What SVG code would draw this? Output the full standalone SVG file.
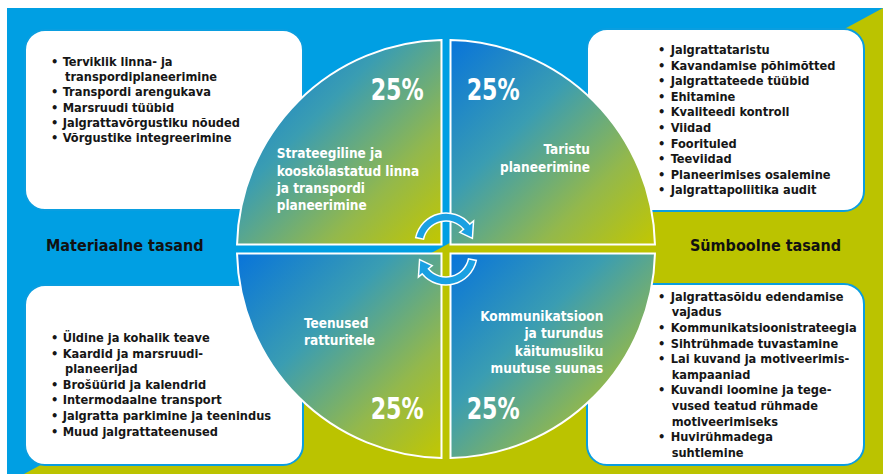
<svg xmlns="http://www.w3.org/2000/svg" width="883" height="474" viewBox="0 0 883 474">
<defs>
<linearGradient id="qg" x1="0" y1="0" x2="1" y2="1">
<stop offset="0" stop-color="#0874DA"/>
<stop offset="0.38" stop-color="#3A9DB2"/>
<stop offset="0.72" stop-color="#93B84C"/>
<stop offset="1" stop-color="#C2C700"/>
</linearGradient>
<style>
.box{fill:#fff;stroke:#0A9EE0;stroke-width:2}
.item{font-family:"DejaVu Sans Condensed","DejaVu Sans",sans-serif;font-weight:bold;font-size:12.7px;fill:#161616}
.qt{font-family:"DejaVu Sans Condensed","DejaVu Sans",sans-serif;font-weight:bold;font-size:13.5px;fill:#fff}
.pct{font-family:"DejaVu Sans Condensed","DejaVu Sans",sans-serif;font-weight:bold;font-size:30px;fill:#fff}
.lbl{font-family:"DejaVu Sans Condensed","DejaVu Sans",sans-serif;font-weight:bold;font-size:16px;fill:#111}
.quad{fill:url(#qg);stroke:#fff;stroke-width:2}
.arrow{fill:#1AA0E2;stroke:#fff;stroke-width:1.5;stroke-linejoin:miter}
</style>
</defs>
<rect x="0" y="0" width="883" height="474" fill="#fff"/>
<rect x="7" y="8" width="876" height="466" fill="#009FE3"/>
<polygon points="883,8 883,474 24,474" fill="#BBC300"/>

<g id="box-tl">
<rect class="box" x="25" y="30" width="278" height="180" rx="20"/>
<g class="item">
<text x="51" y="65.5">•</text><text x="62.7" y="65.5">Terviklik linna- ja</text>
<text x="65" y="81">transpordiplaneerimine</text>
<text x="51" y="96.3">•</text><text x="62.7" y="96.3">Transpordi arengukava</text>
<text x="51" y="111.7">•</text><text x="62.7" y="111.7">Marsruudi tüübid</text>
<text x="51" y="127">•</text><text x="62.7" y="127">Jalgrattavõrgustiku nõuded</text>
<text x="51" y="142.4">•</text><text x="62.7" y="142.4">Võrgustike integreerimine</text>
</g>
</g>

<g id="box-tr">
<rect class="box" x="587" y="29" width="277" height="182" rx="20"/>
<g class="item">
<text x="658" y="54">•</text><text x="670.7" y="54">Jalgrattataristu</text>
<text x="658" y="69.6">•</text><text x="670.7" y="69.6">Kavandamise põhimõtted</text>
<text x="658" y="85.2">•</text><text x="670.7" y="85.2">Jalgrattateede tüübid</text>
<text x="658" y="100.8">•</text><text x="670.7" y="100.8">Ehitamine</text>
<text x="658" y="116.4">•</text><text x="670.7" y="116.4">Kvaliteedi kontroll</text>
<text x="658" y="132">•</text><text x="670.7" y="132">Viidad</text>
<text x="658" y="147.6">•</text><text x="670.7" y="147.6">Foorituled</text>
<text x="658" y="163.2">•</text><text x="670.7" y="163.2">Teeviidad</text>
<text x="658" y="178.8">•</text><text x="670.7" y="178.8">Planeerimises osalemine</text>
<text x="658" y="194.4">•</text><text x="670.7" y="194.4">Jalgrattapoliitika audit</text>
</g>
</g>

<g id="box-bl">
<rect class="box" x="25" y="285" width="278" height="180" rx="20"/>
<g class="item">
<text x="51" y="342.3">•</text><text x="62.7" y="342.3">Üldine ja kohalik teave</text>
<text x="51" y="357.8">•</text><text x="62.7" y="357.8">Kaardid ja marsruudi-</text>
<text x="65" y="373.3">planeerijad</text>
<text x="51" y="388.9">•</text><text x="62.7" y="388.9">Brošüürid ja kalendrid</text>
<text x="51" y="404.4">•</text><text x="62.7" y="404.4">Intermodaalne transport</text>
<text x="51" y="420">•</text><text x="62.7" y="420">Jalgratta parkimine ja teenindus</text>
<text x="51" y="435.5">•</text><text x="62.7" y="435.5">Muud jalgrattateenused</text>
</g>
</g>

<g id="box-br">
<rect class="box" x="587" y="284" width="277" height="181" rx="20"/>
<g class="item">
<text x="658" y="300.7">•</text><text x="670.7" y="300.7">Jalgrattasõidu edendamise</text>
<text x="671.7" y="316.3">vajadus</text>
<text x="658" y="331.9">•</text><text x="670.7" y="331.9">Kommunikatsioonistrateegia</text>
<text x="658" y="347.5">•</text><text x="670.7" y="347.5">Sihtrühmade tuvastamine</text>
<text x="658" y="363.1">•</text><text x="670.7" y="363.1">Lai kuvand ja motiveerimis-</text>
<text x="671.7" y="378.7">kampaaniad</text>
<text x="658" y="394.3">•</text><text x="670.7" y="394.3">Kuvandi loomine ja tege-</text>
<text x="671.7" y="409.9">vused teatud rühmade</text>
<text x="671.7" y="425.5">motiveerimiseks</text>
<text x="658" y="441.1">•</text><text x="670.7" y="441.1">Huvirühmadega</text>
<text x="671.7" y="456.7">suhtlemine</text>
</g>
</g>

<g id="label-left"><text class="lbl" x="46" y="251">Materiaalne tasand</text></g>
<g id="label-right"><text class="lbl" x="690" y="251">Sümboolne tasand</text></g>

<g id="quad-tl">
<path class="quad" d="M441.5,244.5 V40.05 A209,209 0 0 0 237.05,244.5 Z"/>
<text class="pct" x="370.7" y="100" textLength="53" lengthAdjust="spacingAndGlyphs">25%</text>
<g class="qt">
<text x="276.7" y="158.3">Strateegiline ja</text>
<text x="276.7" y="175.8">kooskõlastatud linna</text>
<text x="276.7" y="193">ja transpordi</text>
<text x="276.7" y="210.3">planeerimine</text>
</g>
</g>
<g id="quad-tr">
<path class="quad" d="M450.5,244.5 V40.05 A209,209 0 0 1 654.95,244.5 Z"/>
<text class="pct" x="466.7" y="100" textLength="53" lengthAdjust="spacingAndGlyphs">25%</text>
<g class="qt" text-anchor="end">
<text x="590" y="154">Taristu</text>
<text x="590" y="171.7">planeerimine</text>
</g>
</g>
<g id="quad-bl">
<path class="quad" d="M441.5,253.5 V457.95 A209,209 0 0 1 237.05,253.5 Z"/>
<text class="pct" x="370.7" y="419.3" textLength="53" lengthAdjust="spacingAndGlyphs">25%</text>
<g class="qt">
<text x="304" y="327.7">Teenused</text>
<text x="304" y="345">ratturitele</text>
</g>
</g>
<g id="quad-br">
<path class="quad" d="M450.5,253.5 V457.95 A209,209 0 0 0 654.95,253.5 Z"/>
<text class="pct" x="466.7" y="419.3" textLength="53" lengthAdjust="spacingAndGlyphs">25%</text>
<g class="qt" text-anchor="end">
<text x="603.3" y="321">Kommunikatsioon</text>
<text x="603.3" y="338.3">ja turundus</text>
<text x="603.3" y="355.8">käitumusliku</text>
<text x="603.3" y="373.3">muutuse suunas</text>
</g>
</g>

<g id="connectors">
<path class="arrow" d="M415.68,237.55 A31,31 0 0 1 469.75,224.07 L473.58,220.86 L472.41,238.39 L459.79,232.43 L463.62,229.22 A23,23 0 0 0 423.5,239.22 Z"/>
<path class="arrow" d="M476.32,260.45 A31,31 0 0 1 422.25,273.93 L418.42,277.14 L419.59,259.61 L432.21,265.57 L428.38,268.78 A23,23 0 0 0 468.5,258.78 Z"/>
</g>
</svg>
